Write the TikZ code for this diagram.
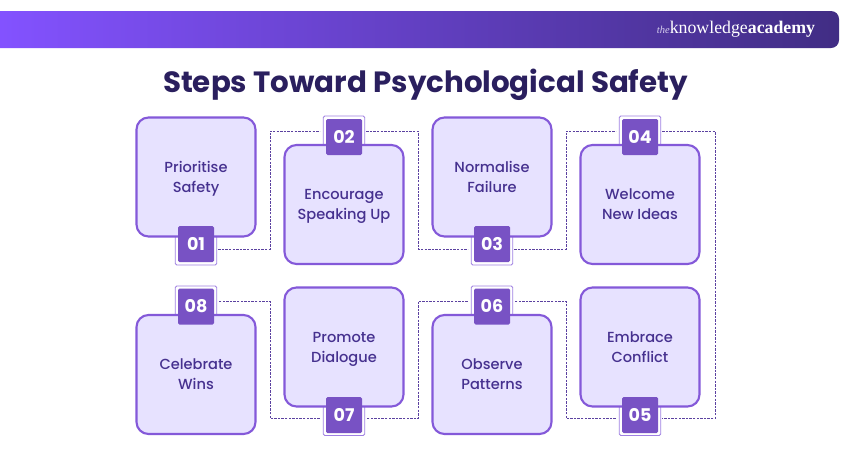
\documentclass[tikz,border=0pt]{standalone}
\usepackage{fontspec}
\setmainfont{Poppins}
\newfontfamily\popmed{Poppins Medium}
\newfontfamily\popbold{Poppins}[UprightFont=*-Bold]
\newfontfamily\logofont{Liberation Serif}
\definecolor{cardfill}{HTML}{E7E2FF}
\definecolor{cardline}{HTML}{8459D9}
\definecolor{badgefill}{HTML}{7852C4}
\definecolor{framecol}{HTML}{9F80E2}
\definecolor{textcol}{HTML}{46318F}
\definecolor{titlecol}{HTML}{2A1F5E}
\definecolor{dashcol}{HTML}{5B41A0}
\newcommand{\twolines}[2]{\rule{0pt}{16pt}#1\\\strut #2}
\tikzset{
  card/.style={draw=cardline,line width=2.1pt,fill=cardfill,rounded corners=12pt,minimum width=119pt,minimum height=119pt,inner sep=0pt,align=center,text=textcol,font=\popmed\fontsize{14.6}{20}\selectfont,anchor=center},
  frameb/.style={draw=framecol,line width=0.9pt,fill=white,rounded corners=1.5pt,minimum width=41.5pt,minimum height=42pt,inner sep=0pt},
  badge/.style={fill=badgefill,rounded corners=1.5pt,minimum width=36pt,minimum height=36pt,inner sep=0pt,text=white,font=\popbold\fontsize{17.5}{20}\selectfont},
  link/.style={draw=dashcol,line width=1pt,dash pattern=on 2.4pt off 1.2pt},
}
\begin{document}
\begin{tikzpicture}[x=1pt,y=-1pt]
\useasboundingbox (0,0) rectangle (850,450);
\fill[white] (0,0) rectangle (850,450);
% banner
\definecolor{bannerA}{HTML}{8352FF}
\definecolor{bannerB}{HTML}{5F3FBD}
\definecolor{bannerC}{HTML}{412D84}
\shade[left color=bannerA,middle color=bannerB,right color=bannerC]
  (0,11) [rounded corners=8pt] -- (839,11) -- (839,48) [sharp corners] -- (0,48) -- cycle;
\node[anchor=center,text=white,inner sep=0pt] (logo) at (736,29.5) {\logofont\fontsize{17.8}{18}\selectfont{\color{white!75!bannerB}\fontsize{10.5}{12}\selectfont\itshape the}knowledge\textbf{academy}};
\node[text=titlecol,font=\popbold\fontsize{29.3}{32}\selectfont,inner sep=0pt] (title) at (425.5,85) {Steps Toward Psychological Safety};
% badge frames
\node[frameb] (f1) at (196,244) {};
\node[frameb] (f2) at (344,137) {};
\node[frameb] (f3) at (492,244) {};
\node[frameb] (f4) at (640,137) {};
\node[frameb] (f5) at (640,414.5) {};
\node[frameb] (f6) at (492,307) {};
\node[frameb] (f7) at (344,414.5) {};
\node[frameb] (f8) at (196,307) {};
% cards
\node[card] (c1) at (196,177) {\twolines{Prioritise}{Safety}};
\node[card] (c2) at (344,204.5) {\twolines{Encourage}{Speaking Up}};
\node[card] (c3) at (492,177) {\twolines{Normalise}{Failure}};
\node[card] (c4) at (640,204.5) {\twolines{Welcome}{New Ideas}};
\node[card] (c5) at (640,347) {\twolines{Embrace}{Conflict}};
\node[card] (c6) at (492,374.5) {\twolines{Observe}{Patterns}};
\node[card] (c7) at (344,347) {\twolines{Promote}{Dialogue}};
\node[card] (c8) at (196,374.5) {\twolines{Celebrate}{Wins}};
% badges
\node[badge] (b1) at (196,244) {01};
\node[badge] (b2) at (344,137) {02};
\node[badge] (b3) at (492,244) {03};
\node[badge] (b4) at (640,137) {04};
\node[badge] (b5) at (640,415) {05};
\node[badge] (b6) at (492,306.5) {06};
\node[badge] (b7) at (344,415) {07};
\node[badge] (b8) at (196,306.5) {08};
% connectors
\coordinate (k1a) at (270,249); \coordinate (k1b) at (270,131);
\coordinate (k2a) at (418,131); \coordinate (k2b) at (418,249);
\coordinate (k3a) at (566,249); \coordinate (k3b) at (566,131);
\coordinate (k4a) at (715,131); \coordinate (k4b) at (715,418.5);
\coordinate (k5a) at (566,418.5); \coordinate (k5b) at (566,301);
\coordinate (k6a) at (418,301); \coordinate (k6b) at (418,418.5);
\coordinate (k7a) at (270,418.5); \coordinate (k7b) at (270,301);
\draw[link] ([xshift=1pt]f1.east |- k1a) -- (k1a) -- (k1b) -- ([xshift=-3pt]f2.west |- k1b);
\draw[link] ([xshift=1pt]f2.east |- k2a) -- (k2a) -- (k2b) -- ([xshift=-3pt]f3.west |- k2b);
\draw[link] ([xshift=1pt]f3.east |- k3a) -- (k3a) -- (k3b) -- ([xshift=-3pt]f4.west |- k3b);
\draw[link] ([xshift=1pt]f4.east |- k4a) -- (k4a) -- (k4b) -- ([xshift=1pt]f5.east |- k4b);
\draw[link] ([xshift=-3pt]f5.west |- k5a) -- (k5a) -- (k5b) -- ([xshift=1pt]f6.east |- k5b);
\draw[link] ([xshift=-3pt]f6.west |- k6a) -- (k6a) -- (k6b) -- ([xshift=1pt]f7.east |- k6b);
\draw[link] ([xshift=-3pt]f7.west |- k7a) -- (k7a) -- (k7b) -- ([xshift=1pt]f8.east |- k7b);
\end{tikzpicture}
\end{document}
